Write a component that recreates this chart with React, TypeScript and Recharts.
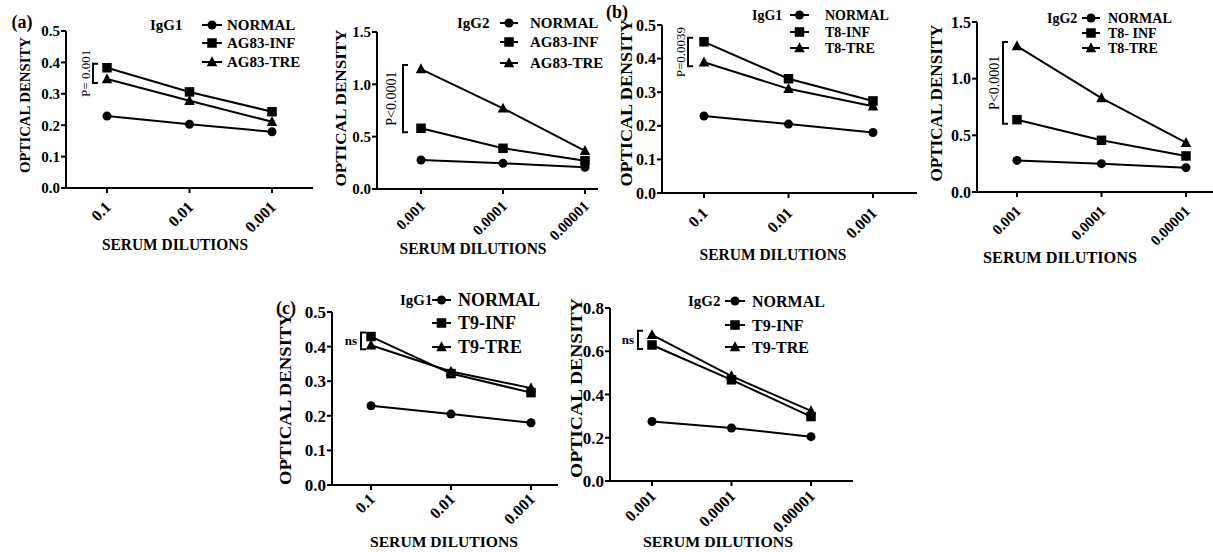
import React from 'react';
import { LineChart, Line, XAxis, YAxis, ReferenceLine } from 'recharts';

const FONT = '"Liberation Serif", "Times New Roman", serif';

// ---------- DATA ----------
const dilutionsIgG1 = ['0.1', '0.01', '0.001'];
const dilutionsIgG2 = ['0.001', '0.0001', '0.00001'];

const namesAG83 = ['NORMAL', 'AG83-INF', 'AG83-TRE'];
const namesT8IgG1 = ['NORMAL', 'T8-INF', 'T8-TRE'];
const namesT8IgG2 = ['NORMAL', 'T8- INF', 'T8-TRE'];
const namesT9 = ['NORMAL', 'T9-INF', 'T9-TRE'];

// (a) AG83
const aIgG1Normal = [0.229, 0.203, 0.179];
const aIgG1Inf = [0.383, 0.306, 0.243];
const aIgG1Tre = [0.347, 0.278, 0.211];
const aIgG2Normal = [0.277, 0.245, 0.208];
const aIgG2Inf = [0.58, 0.389, 0.27];
const aIgG2Tre = [1.146, 0.77, 0.365];

// (b) T8
const bIgG1Normal = [0.229, 0.205, 0.18];
const bIgG1Inf = [0.45, 0.34, 0.274];
const bIgG1Tre = [0.389, 0.31, 0.258];
const bIgG2Normal = [0.279, 0.25, 0.215];
const bIgG2Inf = [0.638, 0.456, 0.318];
const bIgG2Tre = [1.288, 0.829, 0.435];

// (c) T9
const cIgG1Normal = [0.229, 0.205, 0.18];
const cIgG1Inf = [0.429, 0.322, 0.267];
const cIgG1Tre = [0.404, 0.328, 0.28];
const cIgG2Normal = [0.275, 0.245, 0.205];
const cIgG2Inf = [0.629, 0.468, 0.298];
const cIgG2Tre = [0.676, 0.485, 0.324];

const ticksIgG1 = [0, 0.1, 0.2, 0.3, 0.4, 0.5];
const ticksBig = [0, 0.5, 1.0, 1.5];
const ticksC2 = [0, 0.2, 0.4, 0.6, 0.8];

const pA1 = 'P= 0.001';
const pA2 = 'P<0.0001';
const pB1 = 'P=0.0039';
const pB2 = 'P<0.0001';
const pNs = 'ns';

// ---------- MARKERS ----------
const Circle = ({ cx, cy, r = 4.5 }: any) => <circle cx={cx} cy={cy} r={r} fill="#000" />;
const Square = ({ cx, cy, s = 9.5 }: any) => <rect x={cx - s / 2} y={cy - s / 2} width={s} height={s} fill="#000" />;
const Triangle = ({ cx, cy, s = 10.5 }: any) => (
  <polygon points={`${cx},${cy - s * 0.55} ${cx - s / 2},${cy + s * 0.4} ${cx + s / 2},${cy + s * 0.4}`} fill="#000" />
);
const MARKERS = [Circle, Square, Triangle];

const dotFn = (idx: number) => (props: any) => {
  const M = MARKERS[idx];
  return <M key={`d${idx}-${props.index}`} cx={props.cx} cy={props.cy} />;
};

// ---------- TICKS ----------
const XTick = (props: any) => {
  const { x, y, payload, fs, dy } = props;
  return (
    <text
      transform={`translate(${x + 5},${y + dy}) rotate(-45)`}
      textAnchor="end"
      fontSize={fs}
      fontWeight={700}
      fontFamily={FONT}
      fill="#000"
    >
      {payload.value}
    </text>
  );
};

// ---------- BRACKET ----------
const makeBracket = (offset: number, label: string, fs: number, textOff: number, rotated: boolean) => (p: any) => {
  const { x1, y1, y2 } = p;
  if (x1 == null || y1 == null) return <g />;
  const bx = x1 - offset;
  const top = Math.min(y1, y2) - 4;
  const bot = Math.max(y1, y2) + 4;
  const w = 5;
  return (
    <g>
      <path d={`M${bx + w},${top} L${bx},${top} L${bx},${bot} L${bx + w},${bot}`} fill="none" stroke="#000" strokeWidth={2} />
      {rotated ? (
        <text
          transform={`translate(${bx - textOff},${(top + bot) / 2}) rotate(-90)`}
          textAnchor="middle"
          dominantBaseline="central"
          fontSize={fs}
          fontFamily={FONT}
          fill="#000"
        >
          {label}
        </text>
      ) : (
        <text x={bx - textOff} y={(top + bot) / 2} textAnchor="end" dominantBaseline="central" fontSize={fs} fontWeight={700} fontFamily={FONT} fill="#000">
          {label}
        </text>
      )}
    </g>
  );
};

// ---------- PANEL ----------
type PanelCfg = {
  cats: string[];
  normal: number[];
  inf: number[];
  tre: number[];
  axisX: number;
  right: number;
  topY: number;
  bottomY: number;
  padL: number;
  padR: number;
  yMax: number;
  yTicks: number[];
  yFs: number;
  xFs: number;
  xDy: number;
  pLabel: string;
  pFs: number;
  bOff: number;
  tOff: number;
  rotated: boolean;
};

function Panel({ c }: { c: PanelCfg }) {
  const data = c.cats.map((d, i) => ({ dil: d, normal: c.normal[i], inf: c.inf[i], tre: c.tre[i] }));
  const YW = 60;
  const MT = 10;
  const XH = 70;
  const width = c.right - c.axisX + YW;
  const height = c.bottomY - c.topY + MT + XH;
  const hi = Math.max(c.inf[0], c.tre[0]);
  const lo = Math.min(c.inf[0], c.tre[0]);
  const axisStyle = { stroke: '#000', strokeWidth: 2 };
  return (
    <div style={{ position: 'absolute', left: c.axisX - YW, top: c.topY - MT }}>
      <LineChart width={width} height={height} data={data} margin={{ top: MT, right: 0, bottom: 0, left: 0 }}>
        <XAxis
          dataKey="dil"
          height={XH}
          interval={0}
          padding={{ left: c.padL, right: c.padR }}
          axisLine={axisStyle}
          tickLine={axisStyle}
          tickSize={5}
          tick={(p: any) => <XTick {...p} fs={c.xFs} dy={c.xDy} />}
        />
        <YAxis
          width={YW}
          type="number"
          domain={[0, c.yMax]}
          ticks={c.yTicks}
          interval={0}
          tickFormatter={(v: number) => v.toFixed(1)}
          axisLine={axisStyle}
          tickLine={axisStyle}
          tickSize={5}
          tickMargin={1}
          tick={{ fill: '#000', fontSize: c.yFs, fontWeight: 700, fontFamily: FONT }}
        />
        <ReferenceLine
          ifOverflow="visible"
          segment={[
            { x: c.cats[0], y: hi },
            { x: c.cats[0], y: lo },
          ]}
          shape={makeBracket(c.bOff, c.pLabel, c.pFs, c.tOff, c.rotated)}
        />
        <Line dataKey="normal" stroke="#000" strokeWidth={2} dot={dotFn(0)} isAnimationActive={false} />
        <Line dataKey="inf" stroke="#000" strokeWidth={2} dot={dotFn(1)} isAnimationActive={false} />
        <Line dataKey="tre" stroke="#000" strokeWidth={2} dot={dotFn(2)} isAnimationActive={false} />
      </LineChart>
    </div>
  );
}

const panels: PanelCfg[] = [
  { cats: dilutionsIgG1, normal: aIgG1Normal, inf: aIgG1Inf, tre: aIgG1Tre, axisX: 66, right: 313, topY: 31, bottomY: 188, padL: 41, padR: 41, yMax: 0.5, yTicks: ticksIgG1, yFs: 15, xFs: 16, xDy: 13, pLabel: pA1, pFs: 13, bOff: 14, tOff: 8, rotated: true },
  { cats: dilutionsIgG2, normal: aIgG2Normal, inf: aIgG2Inf, tre: aIgG2Tre, axisX: 377, right: 598, topY: 32, bottomY: 189, padL: 44, padR: 13, yMax: 1.5, yTicks: ticksBig, yFs: 15, xFs: 15, xDy: 11, pLabel: pA2, pFs: 14, bOff: 18, tOff: 12, rotated: true },
  { cats: dilutionsIgG1, normal: bIgG1Normal, inf: bIgG1Inf, tre: bIgG1Tre, axisX: 662, right: 917, topY: 25, bottomY: 193, padL: 42, padR: 44, yMax: 0.5, yTicks: ticksIgG1, yFs: 16, xFs: 16, xDy: 14, pLabel: pB1, pFs: 13, bOff: 16, tOff: 8, rotated: true },
  { cats: dilutionsIgG2, normal: bIgG2Normal, inf: bIgG2Inf, tre: bIgG2Tre, axisX: 977, right: 1213, topY: 22, bottomY: 192, padL: 40, padR: 27, yMax: 1.5, yTicks: ticksBig, yFs: 16, xFs: 15, xDy: 13, pLabel: pB2, pFs: 14, bOff: 14, tOff: 9, rotated: true },
  { cats: dilutionsIgG1, normal: cIgG1Normal, inf: cIgG1Inf, tre: cIgG1Tre, axisX: 332, right: 558, topY: 312, bottomY: 485, padL: 39, padR: 27, yMax: 0.5, yTicks: ticksIgG1, yFs: 17, xFs: 16, xDy: 8, pLabel: pNs, pFs: 13, bOff: 10, tOff: 4, rotated: false },
  { cats: dilutionsIgG2, normal: cIgG2Normal, inf: cIgG2Inf, tre: cIgG2Tre, axisX: 610, right: 853, topY: 308, bottomY: 481, padL: 42, padR: 42, yMax: 0.8, yTicks: ticksC2, yFs: 17, xFs: 16, xDy: 9, pLabel: pNs, pFs: 13, bOff: 14, tOff: 4, rotated: false },
];

// ---------- ANNOTATIONS ----------
const yTitles = [
  { cx: 25, cy: 105, len: 136, fs: 15 },
  { cx: 341, cy: 108, len: 157, fs: 15 },
  { cx: 626, cy: 103, len: 167, fs: 16 },
  { cx: 936, cy: 103, len: 157, fs: 16 },
  { cx: 285, cy: 399, len: 172, fs: 17 },
  { cx: 576, cy: 388, len: 180, fs: 17 },
];
const xTitles = [
  { cx: 175, cy: 244, len: 146, fs: 16 },
  { cx: 473, cy: 248, len: 147, fs: 16 },
  { cx: 773, cy: 254, len: 147, fs: 16 },
  { cx: 1060, cy: 257, len: 154, fs: 16 },
  { cx: 444, cy: 542, len: 148, fs: 15 },
  { cx: 718, cy: 542, len: 150, fs: 15 },
];
const legends = [
  { title: 'IgG1', names: namesAG83, lx: 150, tfs: 15, rows: [25, 43, 62], m1: 202, m2: 222, tx: 227, fs: 15 },
  { title: 'IgG2', names: namesAG83, lx: 457, tfs: 15, rows: [23, 42, 63], m1: 500, m2: 518, tx: 530, fs: 15 },
  { title: 'IgG1', names: namesT8IgG1, lx: 752, tfs: 14, rows: [15, 32, 48], m1: 790, m2: 809, tx: 825, fs: 14 },
  { title: 'IgG2', names: namesT8IgG2, lx: 1047, tfs: 14, rows: [18, 33, 48], m1: 1082, m2: 1100, tx: 1108, fs: 14 },
  { title: 'IgG1', names: namesT9, lx: 400, tfs: 15, rows: [300, 323, 347], m1: 432, m2: 451, tx: 458, fs: 18 },
  { title: 'IgG2', names: namesT9, lx: 688, tfs: 15, rows: [301, 325, 347], m1: 725, m2: 745, tx: 752, fs: 16 },
];
const panelLabels = [
  { t: '(a)', x: 22, y: 22 },
  { t: '(b)', x: 617, y: 12 },
  { t: '(c)', x: 286, y: 308 },
];

function Overlay() {
  const tp = { fontFamily: FONT, fontWeight: 700, fill: '#000' } as any;
  return (
    <svg width={1213} height={552} style={{ position: 'absolute', left: 0, top: 0, pointerEvents: 'none' }}>
      {yTitles.map((t, i) => (
        <text
          key={'yt' + i}
          transform={`translate(${t.cx},${t.cy}) rotate(-90)`}
          textAnchor="middle"
          dominantBaseline="central"
          fontSize={t.fs}
          textLength={t.len}
          lengthAdjust="spacingAndGlyphs"
          {...tp}
        >
          OPTICAL DENSITY
        </text>
      ))}
      {xTitles.map((t, i) => (
        <text
          key={'xt' + i}
          x={t.cx}
          y={t.cy}
          textAnchor="middle"
          dominantBaseline="central"
          fontSize={t.fs}
          textLength={t.len}
          lengthAdjust="spacingAndGlyphs"
          {...tp}
        >
          SERUM DILUTIONS
        </text>
      ))}
      {legends.map((L, i) => (
        <g key={'lg' + i}>
          <text x={L.lx} y={L.rows[0]} dominantBaseline="central" fontSize={L.tfs} {...tp}>
            {L.title}
          </text>
          {L.names.map((n, j) => {
            const M = MARKERS[j];
            const cy = L.rows[j];
            return (
              <g key={n}>
                <line x1={L.m1} x2={L.m2} y1={cy} y2={cy} stroke="#000" strokeWidth={2} />
                <M cx={(L.m1 + L.m2) / 2} cy={cy} />
                <text x={L.tx} y={cy} dominantBaseline="central" fontSize={L.fs} {...tp}>
                  {n}
                </text>
              </g>
            );
          })}
        </g>
      ))}
      {panelLabels.map((p) => (
        <text key={p.t} x={p.x} y={p.y} textAnchor="middle" dominantBaseline="central" fontSize={18} {...tp}>
          {p.t}
        </text>
      ))}
    </svg>
  );
}

export default function App() {
  return (
    <div style={{ position: 'absolute', left: 0, top: 0, width: 1213, height: 552, background: '#fff', overflow: 'hidden', fontFamily: FONT }}>
      {panels.map((c, i) => (
        <Panel key={i} c={c} />
      ))}
      <Overlay />
    </div>
  );
}
